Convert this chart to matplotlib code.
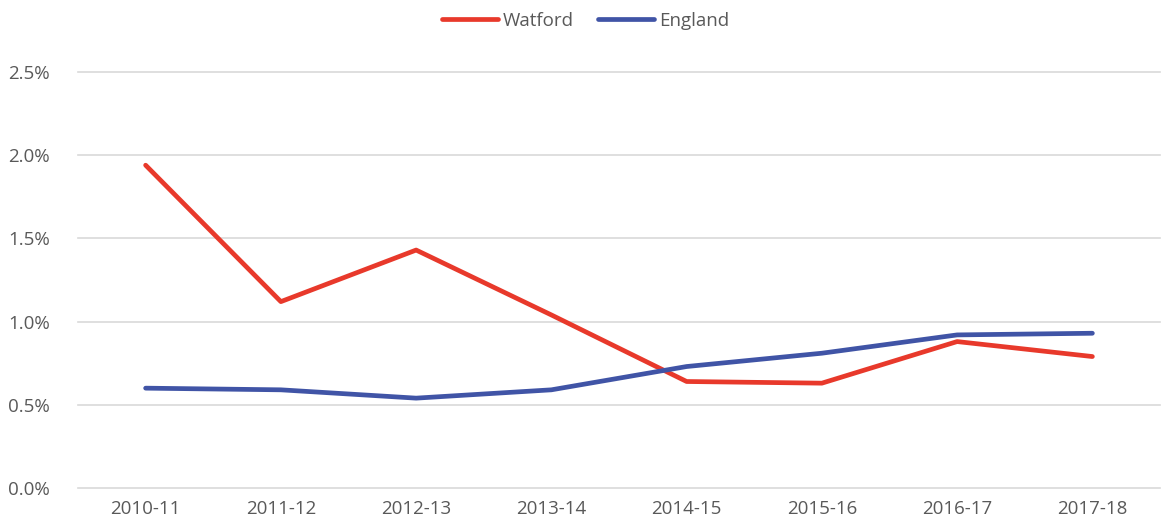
import matplotlib
matplotlib.use("Agg")
import matplotlib.pyplot as plt
from matplotlib.ticker import FuncFormatter

years = ["2010-11", "2011-12", "2012-13", "2013-14", "2014-15", "2015-16", "2016-17", "2017-18"]
watford = [1.94, 1.12, 1.43, 1.04, 0.64, 0.63, 0.88, 0.79]
england = [0.60, 0.59, 0.54, 0.59, 0.73, 0.81, 0.92, 0.93]

plt.rcParams['font.family'] = ['Open Sans', 'DejaVu Sans']
fig = plt.figure(figsize=(11.71, 5.32), dpi=100)
ax = fig.add_axes([78/1171, 1-488/532, (1160-78)/1171, (488-72)/532])

x = list(range(len(years)))
ax.plot(x, watford, color="#E8392B", lw=3.4, label="Watford", solid_capstyle="round", solid_joinstyle="round", zorder=3)
ax.plot(x, england, color="#4054A6", lw=3.4, label="England", solid_capstyle="round", solid_joinstyle="round", zorder=3)

ax.set_xlim(-0.5, len(years) - 0.5)
ax.set_ylim(0, 2.5)
ax.set_yticks([0, 0.5, 1.0, 1.5, 2.0, 2.5])
ax.yaxis.set_major_formatter(FuncFormatter(lambda v, p: f"{v:.1f}%"))
ax.set_xticks(x)
ax.set_xticklabels(years)
for gl in ax.get_yticks():
    ax.axhline(gl, color="#D9D9D9", lw=1.2, clip_on=False, zorder=1)
for s in ax.spines.values():
    s.set_visible(False)
ax.tick_params(axis="both", length=0, labelsize=13.5, colors="#595959")
ax.tick_params(axis="y", pad=20)
ax.tick_params(axis="x", pad=9)

leg = fig.legend(loc="upper center", bbox_to_anchor=(0.5, 1.01), ncol=2, frameon=False,
                 fontsize=13.5, handlelength=3.0, columnspacing=1.3, handletextpad=0.25)
for t in leg.get_texts():
    t.set_color("#595959")

fig.savefig("out.png", dpi=100)
